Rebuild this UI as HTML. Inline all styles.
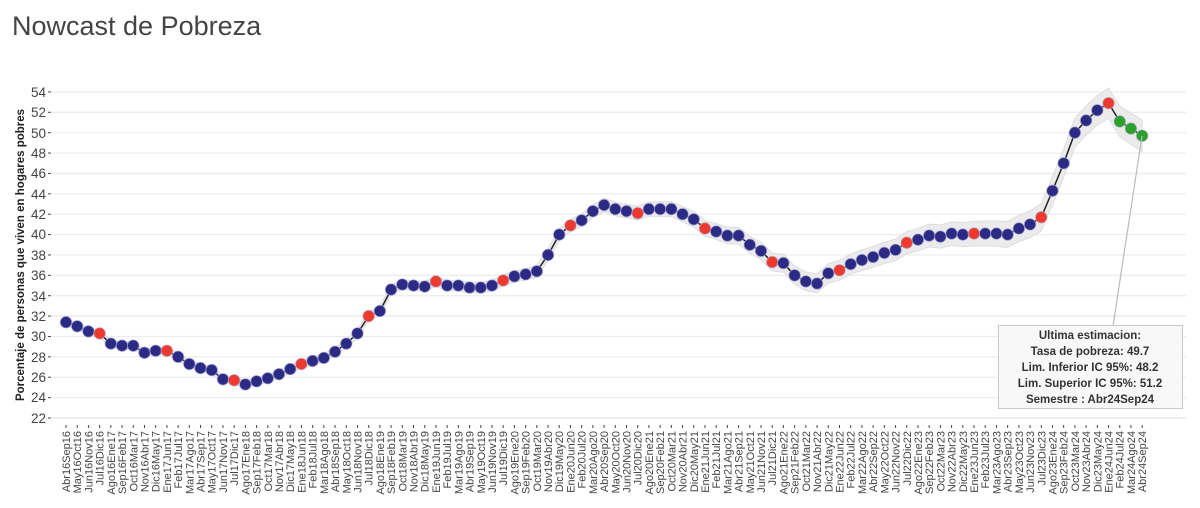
<!DOCTYPE html>
<html><head><meta charset="utf-8"><style>
html,body{margin:0;padding:0;background:#fff;width:1200px;height:508px;overflow:hidden}
svg{font-family:"Liberation Sans",Arial,sans-serif}
</style></head><body>
<svg id="s" width="1200" height="508" viewBox="0 0 1200 508">
<text x="12" y="35" font-size="27" fill="#444">Nowcast de Pobreza</text>
<g id="grid"></g>
<g id="ylab" font-size="13.5" fill="#444" text-anchor="end">
<text x="46" y="97">54</text><text x="46" y="117">52</text><text x="46" y="138">50</text><text x="46" y="158">48</text>
<text x="46" y="178">46</text><text x="46" y="199">44</text><text x="46" y="219">42</text><text x="46" y="239">40</text>
<text x="46" y="260">38</text><text x="46" y="280">36</text><text x="46" y="301">34</text><text x="46" y="321">32</text>
<text x="46" y="341">30</text><text x="46" y="362">28</text><text x="46" y="382">26</text><text x="46" y="402">24</text>
<text x="46" y="423">22</text>
</g>
<text transform="translate(24,255) rotate(-90)" font-size="11.5" font-weight="bold" fill="#222" text-anchor="middle">Porcentaje de personas que viven en hogares pobres</text>
<g id="band"></g>
<g id="line"></g>
<g id="pts"></g>
<g id="xlab" font-size="11" fill="#444" text-anchor="end">
<text>Abr16Sep16</text><text>May16Oct16</text><text>Jun16Nov16</text><text>Jul16Dic16</text><text>Ago16Ene17</text><text>Sep16Feb17</text><text>Oct16Mar17</text><text>Nov16Abr17</text><text>Dic16May17</text><text>Ene17Jun17</text><text>Feb17Jul17</text><text>Mar17Ago17</text><text>Abr17Sep17</text><text>May17Oct17</text><text>Jun17Nov17</text><text>Jul17Dic17</text><text>Ago17Ene18</text><text>Sep17Feb18</text><text>Oct17Mar18</text><text>Nov17Abr18</text><text>Dic17May18</text><text>Ene18Jun18</text><text>Feb18Jul18</text><text>Mar18Ago18</text><text>Abr18Sep18</text><text>May18Oct18</text><text>Jun18Nov18</text><text>Jul18Dic18</text><text>Ago18Ene19</text><text>Sep18Feb19</text><text>Oct18Mar19</text><text>Nov18Abr19</text><text>Dic18May19</text><text>Ene19Jun19</text><text>Feb19Jul19</text><text>Mar19Ago19</text><text>Abr19Sep19</text><text>May19Oct19</text><text>Jun19Nov19</text><text>Jul19Dic19</text><text>Ago19Ene20</text><text>Sep19Feb20</text><text>Oct19Mar20</text><text>Nov19Abr20</text><text>Dic19May20</text><text>Ene20Jun20</text><text>Feb20Jul20</text><text>Mar20Ago20</text><text>Abr20Sep20</text><text>May20Oct20</text><text>Jun20Nov20</text><text>Jul20Dic20</text><text>Ago20Ene21</text><text>Sep20Feb21</text><text>Oct20Mar21</text><text>Nov20Abr21</text><text>Dic20May21</text><text>Ene21Jun21</text><text>Feb21Jul21</text><text>Mar21Ago21</text><text>Abr21Sep21</text><text>May21Oct21</text><text>Jun21Nov21</text><text>Jul21Dic21</text><text>Ago21Ene22</text><text>Sep21Feb22</text><text>Oct21Mar22</text><text>Nov21Abr22</text><text>Dic21May22</text><text>Ene22Jun22</text><text>Feb22Jul22</text><text>Mar22Ago22</text><text>Abr22Sep22</text><text>May22Oct22</text><text>Jun22Nov22</text><text>Jul22Dic22</text><text>Ago22Ene23</text><text>Sep22Feb23</text><text>Oct22Mar23</text><text>Nov22Abr23</text><text>Dic22May23</text><text>Ene23Jun23</text><text>Feb23Jul23</text><text>Mar23Ago23</text><text>Abr23Sep23</text><text>May23Oct23</text><text>Jun23Nov23</text><text>Jul23Dic23</text><text>Ago23Ene24</text><text>Sep23Feb24</text><text>Oct23Mar24</text><text>Nov23Abr24</text><text>Dic23May24</text><text>Ene24Jun24</text><text>Feb24Jul24</text><text>Mar24Ago24</text><text>Abr24Sep24</text>
</g>
<line x1="1142" y1="136" x2="1113" y2="326" stroke="#bbb" stroke-width="1.2"/>
<rect x="998.5" y="325.5" width="184" height="83" fill="#f8f8f8" stroke="#c8c8c8"/>
<g font-size="11.5" font-weight="bold" fill="#333" text-anchor="middle">
<text x="1090" y="339">Ultima estimacion:</text>
<text x="1090" y="355">Tasa de pobreza:  49.7</text>
<text x="1090" y="371">Lim. Inferior IC 95%:  48.2</text>
<text x="1090" y="387">Lim. Superior IC 95%:  51.2</text>
<text x="1090" y="403">Semestre : Abr24Sep24</text>
</g>
</svg>
<script>
var v=[31.4,31.0,30.5,30.3,29.3,29.1,29.1,28.4,28.6,28.6,28.0,27.3,26.9,26.7,25.8,25.7,25.3,25.6,25.9,26.3,26.8,27.3,27.6,27.9,28.5,29.3,30.3,32.0,32.5,34.6,35.1,35.0,34.9,35.4,35.0,35.0,34.8,34.8,35.0,35.5,35.9,36.1,36.4,38.0,40.0,40.9,41.4,42.3,42.9,42.5,42.3,42.1,42.5,42.5,42.5,42.0,41.5,40.6,40.3,39.9,39.9,39.0,38.4,37.3,37.2,36.0,35.4,35.2,36.2,36.5,37.1,37.5,37.8,38.2,38.5,39.2,39.5,39.9,39.8,40.1,40.0,40.1,40.1,40.1,40.0,40.6,41.0,41.7,44.3,47.0,50.0,51.2,52.2,52.9,51.1,50.4,49.7];
var NS="http://www.w3.org/2000/svg";
function X(i){return 66+i*11.21}
function Y(t){return 418-(t-22)*10.19}
function el(t,a,p){var e=document.createElementNS(NS,t);for(var k in a)e.setAttribute(k,a[k]);document.getElementById(p).appendChild(e);return e}
for(var g=22;g<=54;g+=2){var y=Y(g);el("line",{x1:52,x2:1186,y1:y,y2:y,stroke:g==22?"#e4e4e4":"#ececec","stroke-width":g==46||g==32?1.6:1.2},"grid");el("line",{x1:48,x2:51,y1:y,y2:y,stroke:"#444"},"grid");}
var up=[],lo=[];
for(var i=0;i<v.length;i++){var w=0.35+Math.pow(i/96,2)*1.2;up.push(X(i)+","+Y(v[i]+w));lo.unshift(X(i)+","+Y(v[i]-w));}
el("polygon",{points:up.concat(lo).join(" "),fill:"#ebebeb",stroke:"#dedede"},"band");
el("polyline",{points:v.map(function(t,i){return X(i)+","+Y(t)}).join(" "),fill:"none",stroke:"#222","stroke-width":1.5},"line");
for(var i=0;i<v.length;i++){var c=i>=94?"#2ca02c":(i%6==3?"#ee3a2e":"#2b2a85");el("circle",{cx:X(i),cy:Y(v[i]),r:5.8,fill:c,stroke:"rgba(180,180,220,0.6)","stroke-width":1},"pts");
el("line",{x1:X(i),x2:X(i),y1:425,y2:428,stroke:"#444"},"grid");}
var ts=document.getElementById("xlab").children;
for(var i=0;i<ts.length;i++){ts[i].setAttribute("transform","translate("+(X(i)+4)+",431) rotate(-90)");}
</script>
</body></html>
